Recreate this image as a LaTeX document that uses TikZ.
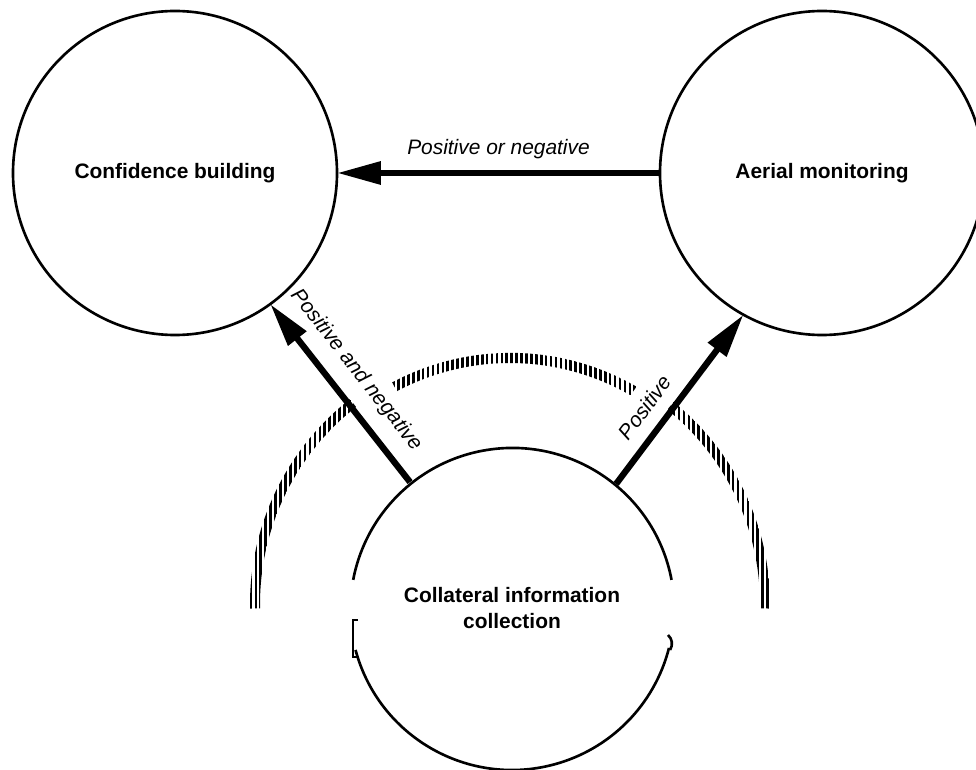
\documentclass[tikz,border=0pt]{standalone}
\usepackage{fontspec}
\setmainfont{Liberation Sans}
\usetikzlibrary{arrows.meta,patterns.meta}

\begin{document}
\begin{tikzpicture}[
  topic/.style={circle, minimum size=6.48cm, inner sep=0pt, outer sep=0pt, align=center, font=\fontsize{11.9}{14.3}\selectfont\bfseries},
  ring/.style={topic, draw, line width=1.5pt},
  link/.style={line width=3.6pt, -{Triangle[length=25pt,width=12.5pt]}},
  tag/.style={font=\fontsize{11.9}{14.3}\selectfont\itshape, inner sep=2pt},
  hatch/.style={pattern={Lines[angle=90,distance=2.8pt,line width=1.5pt]}},
]
\useasboundingbox (0,0) rectangle (19.52,15.38);

\node[ring] (confidence) at (3.5,11.92) {Confidence building};
\node[ring] (aerial) at (16.44,11.92) {Aerial monitoring};
\node[topic] (collateral) at (10.24,3.22) {Collateral information\\collection};
\coordinate (hub) at (10.2,3.3);

% lower circle, broken where the scan is
\draw[line width=1.5pt] (collateral.10.7) arc[start angle=10.7, end angle=169.3, radius=3.24];
\draw[line width=1.5pt] (collateral.195) arc[start angle=195, end angle=345.7, radius=3.24];
\draw[line width=0.8pt] (7.16,2.98) -- (7.06,2.98) -- (7.06,2.24) -- (7.16,2.24);
\draw[line width=1.5pt] (13.36,2.68) to[bend left=40] (13.40,2.38);

% hatched arc in three pieces
\foreach \a/\b/\r/\R in {128/181/5.0/5.2, 60/118/4.82/5.04, -1/51/5.0/5.2}
  \fill[hatch] (hub) ++(\a:\r) arc[start angle=\a, end angle=\b, radius=\r] -- ++(\b:0.2) arc[start angle=\b, end angle=\a, radius=\R] -- cycle;

\draw[link] (aerial.west) -- node[tag, above=4pt, midway] (ornegative) {Positive or negative} (confidence.east);
\draw[link] (collateral.129) -- node[tag, sloped, above=6pt, pos=0.535] (andnegative) {Positive and negative} (confidence.-54);
\draw[link] (collateral.50) -- node[tag, sloped, above=5pt, pos=0.37] (positive) {Positive} (aerial.241);

\end{tikzpicture}
\end{document}
